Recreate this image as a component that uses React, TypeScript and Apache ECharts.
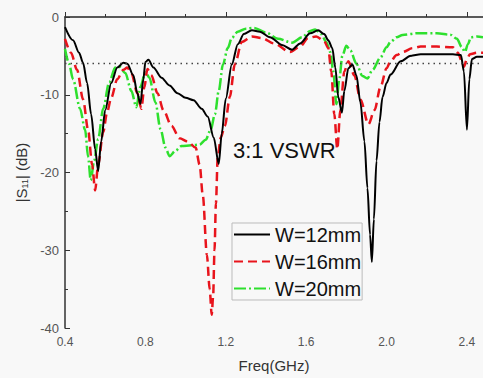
import React, { useEffect, useRef } from "react";
import * as echarts from "echarts";

const seriesNames = ["W=12mm", "W=16mm", "W=20mm"];
const xTicks = [0.4, 0.8, 1.2, 1.6, 2.0, 2.4];
const vswrLevel = -6;

const w12: [number, number][] = [
  [0.40, -1.3], [0.44, -3.0], [0.47, -4.6], [0.49, -5.9], [0.51, -8.5], [0.53, -12.5], [0.55, -17],
  [0.565, -19.8], [0.58, -16], [0.60, -12], [0.63, -8.5], [0.66, -6.5], [0.69, -5.9], [0.71, -6.0],
  [0.74, -7.5], [0.76, -9.8], [0.775, -11.2], [0.79, -8], [0.80, -5.8], [0.815, -5.5], [0.84, -6.5],
  [0.88, -7.8], [0.92, -8.8], [0.96, -9.8], [1.00, -10.4], [1.04, -10.7], [1.08, -11.8], [1.11, -12.8],
  [1.14, -15.5], [1.165, -18.9], [1.18, -15], [1.20, -10.5], [1.23, -6.1], [1.26, -3.5], [1.29, -2.2],
  [1.33, -1.7], [1.37, -1.9], [1.42, -2.6], [1.48, -3.6], [1.53, -4.2], [1.57, -3.4], [1.62, -2.1],
  [1.66, -1.7], [1.69, -2.2], [1.71, -3.0], [1.73, -4.0], [1.745, -6.5], [1.76, -10.3], [1.778, -12.3],
  [1.79, -9.5], [1.81, -6.6], [1.83, -6.1], [1.85, -7.5], [1.87, -11], [1.89, -16], [1.905, -22],
  [1.918, -28], [1.927, -31.5], [1.937, -26], [1.95, -18.5], [1.965, -13.5], [1.98, -10.3], [2.00, -8.5],
  [2.02, -7.4], [2.07, -5.7], [2.12, -5.0], [2.17, -4.8], [2.25, -4.8], [2.33, -4.8], [2.37, -4.9],
  [2.385, -7], [2.40, -14.5], [2.412, -8], [2.425, -5.4], [2.45, -5.1], [2.48, -5.1],
];

const w16: [number, number][] = [
  [0.40, -2.8], [0.43, -4.6], [0.46, -6.8], [0.49, -10.6], [0.515, -14.5], [0.535, -19], [0.55, -22.3],
  [0.565, -19], [0.59, -14.8], [0.61, -12.2], [0.63, -10.4], [0.66, -8], [0.69, -6.8], [0.71, -6.5],
  [0.73, -7.2], [0.76, -9.8], [0.78, -11.8], [0.795, -9], [0.81, -6.7], [0.83, -7.5], [0.86, -9.8],
  [0.89, -12], [0.93, -14], [0.97, -15.6], [1.01, -16], [1.05, -16.8], [1.07, -19], [1.086, -23],
  [1.106, -30.6], [1.12, -35], [1.13, -38.3], [1.137, -36], [1.144, -30], [1.151, -24], [1.16, -18],
  [1.175, -15.5], [1.196, -14], [1.22, -10.3], [1.245, -6.1], [1.28, -3.2], [1.33, -2.5], [1.38, -2.7],
  [1.44, -3.4], [1.52, -4.5], [1.57, -3.8], [1.61, -2.7], [1.65, -2.5], [1.69, -3.1], [1.71, -4.0],
  [1.725, -7], [1.74, -12.5], [1.755, -17], [1.77, -12], [1.79, -7], [1.81, -5.7], [1.84, -7.5],
  [1.87, -10.6], [1.91, -13.8], [1.94, -12], [1.97, -9], [2.00, -6.6], [2.02, -5.7], [2.05, -4.9],
  [2.08, -4.5], [2.13, -4.0], [2.17, -3.8], [2.25, -3.8], [2.33, -3.9], [2.355, -4.6], [2.375, -5.7],
  [2.385, -6.4], [2.40, -5.4], [2.415, -4.8], [2.45, -4.6], [2.48, -4.6],
];

const w20: [number, number][] = [
  [0.40, -4.1], [0.42, -6], [0.44, -8], [0.475, -11.8], [0.50, -14.5], [0.515, -18], [0.528, -21],
  [0.545, -18.5], [0.565, -15.7], [0.59, -11.8], [0.62, -8.4], [0.65, -6.5], [0.67, -6.4], [0.70, -7.2],
  [0.73, -9.5], [0.755, -11.6], [0.775, -9], [0.80, -7.1], [0.82, -7.8], [0.85, -11], [0.875, -14.4],
  [0.90, -16.8], [0.92, -17.9], [0.95, -17.2], [0.98, -16.6], [1.03, -16.5], [1.07, -16.4], [1.10, -15.8],
  [1.125, -14.5], [1.146, -12.5], [1.165, -9.5], [1.186, -6.1], [1.21, -4], [1.23, -2.7], [1.26, -1.9],
  [1.30, -1.5], [1.34, -1.4], [1.40, -2.0], [1.46, -2.8], [1.53, -3.3], [1.58, -2.6], [1.62, -1.8],
  [1.645, -1.6], [1.675, -2.2], [1.70, -3.2], [1.72, -4.5], [1.735, -7], [1.75, -11.2], [1.765, -8],
  [1.78, -5], [1.80, -3.7], [1.82, -4.3], [1.85, -6], [1.88, -7.6], [1.905, -7.9], [1.93, -6.8],
  [1.97, -5.2], [2.00, -3.9], [2.02, -3.2], [2.05, -2.6], [2.08, -2.3], [2.15, -2.1], [2.25, -2.1],
  [2.32, -2.3], [2.35, -2.8], [2.375, -3.9], [2.39, -4.5], [2.405, -3.5], [2.42, -2.6], [2.45, -2.5],
  [2.48, -2.6],
];

const FONT = "'Liberation Sans', Arial, sans-serif";

export default function App() {
  const ref = useRef<HTMLDivElement>(null);
  useEffect(() => {
    if (!ref.current) return;
    const chart = echarts.init(ref.current, undefined, { renderer: "svg" });
    const isTick = (v: number) => xTicks.some((t) => Math.abs(t - v) < 1e-6);
    chart.setOption({
      animation: false,
      backgroundColor: "#f8f8f8",
      textStyle: { fontFamily: FONT },
      grid: { left: 65, top: 17, right: 0, bottom: 47 },
      legend: {
        orient: "vertical",
        left: 232,
        top: 223,
        itemWidth: 36,
        itemHeight: 14,
        itemGap: 6,
        padding: [1, 1, 1, 1],
        borderColor: "#bbbbbb",
        borderWidth: 1,
        backgroundColor: "#f8f8f8",
        itemStyle: { opacity: 0, color: "transparent", borderWidth: 0 },
        textStyle: { fontSize: 20, color: "#111", lineHeight: 21, fontFamily: FONT },
        data: seriesNames,
      },
      xAxis: [
        {
          type: "value",
          min: 0.4,
          max: 2.48,
          interval: 0.4,
          name: "Freq(GHz)",
          nameLocation: "middle",
          nameGap: 30,
          nameTextStyle: { fontSize: 15, color: "#333" },
          axisLine: { lineStyle: { color: "#333", width: 1.5 } },
          axisTick: { inside: true, length: 5, lineStyle: { color: "#333" } },
          minorTick: { show: true, splitNumber: 2, length: 3, lineStyle: { color: "#333" } },
          splitLine: { show: false },
          axisLabel: {
            fontSize: 12,
            color: "#555",
            margin: 8,
            showMaxLabel: false,
            formatter: (v: number) => (isTick(v) ? v.toFixed(1) : ""),
          },
        },
        {
          type: "value",
          position: "top",
          min: 0.4,
          max: 2.48,
          axisLine: { show: true, onZero: false, lineStyle: { color: "#555", width: 1.5 } },
          axisTick: { show: false },
          axisLabel: { show: false },
          splitLine: { show: false },
        },
      ],
      yAxis: {
        type: "value",
        min: -40,
        max: 0,
        interval: 10,
        name: "|S{sub|11}| (dB)",
        nameLocation: "middle",
        nameGap: 36,
        nameRotate: 90,
        nameTextStyle: {
          fontSize: 15,
          color: "#333",
          rich: { sub: { fontSize: 9, padding: [7, 0, 0, 0] } },
        },
        axisLine: { show: true, lineStyle: { color: "#333", width: 1.5 } },
        axisTick: { inside: true, length: 5, lineStyle: { color: "#333" } },
        minorTick: { show: true, splitNumber: 2, length: 3, lineStyle: { color: "#333" } },
        splitLine: { show: false },
        axisLabel: { fontSize: 13, color: "#555", margin: 6 },
      },
      graphic: [
        {
          type: "text",
          left: 233,
          top: 139,
          style: { text: "3:1 VSWR", fontSize: 22, fill: "#111", fontFamily: FONT },
        },
      ],
      series: [
        {
          name: seriesNames[0],
          type: "line",
          data: w12,
          symbol: "none",
          smooth: 0.3,
          smoothMonotone: "x",
          z: 4,
          lineStyle: { color: "#000", width: 2 },
          itemStyle: { color: "#000" },
          markLine: {
            silent: true,
            symbol: "none",
            label: { show: false },
            lineStyle: { type: [1.5, 4], color: "#444", width: 1.3 },
            data: [{ yAxis: vswrLevel }],
          },
        },
        {
          name: seriesNames[1],
          type: "line",
          data: w16,
          symbol: "none",
          smooth: 0.3,
          smoothMonotone: "x",
          z: 3,
          lineStyle: { color: "#e8141c", width: 2.5, type: [9, 5] },
          itemStyle: { color: "#e8141c" },
        },
        {
          name: seriesNames[2],
          type: "line",
          data: w20,
          symbol: "none",
          smooth: 0.3,
          smoothMonotone: "x",
          z: 2,
          lineStyle: { color: "#2ee02e", width: 2.5, type: [12, 3, 2, 3] },
          itemStyle: { color: "#2ee02e" },
        },
      ],
    });
    return () => chart.dispose();
  }, []);
  return (
    <div
      ref={ref}
      style={{ position: "fixed", left: 0, top: 0, width: 483, height: 378 }}
    />
  );
}
